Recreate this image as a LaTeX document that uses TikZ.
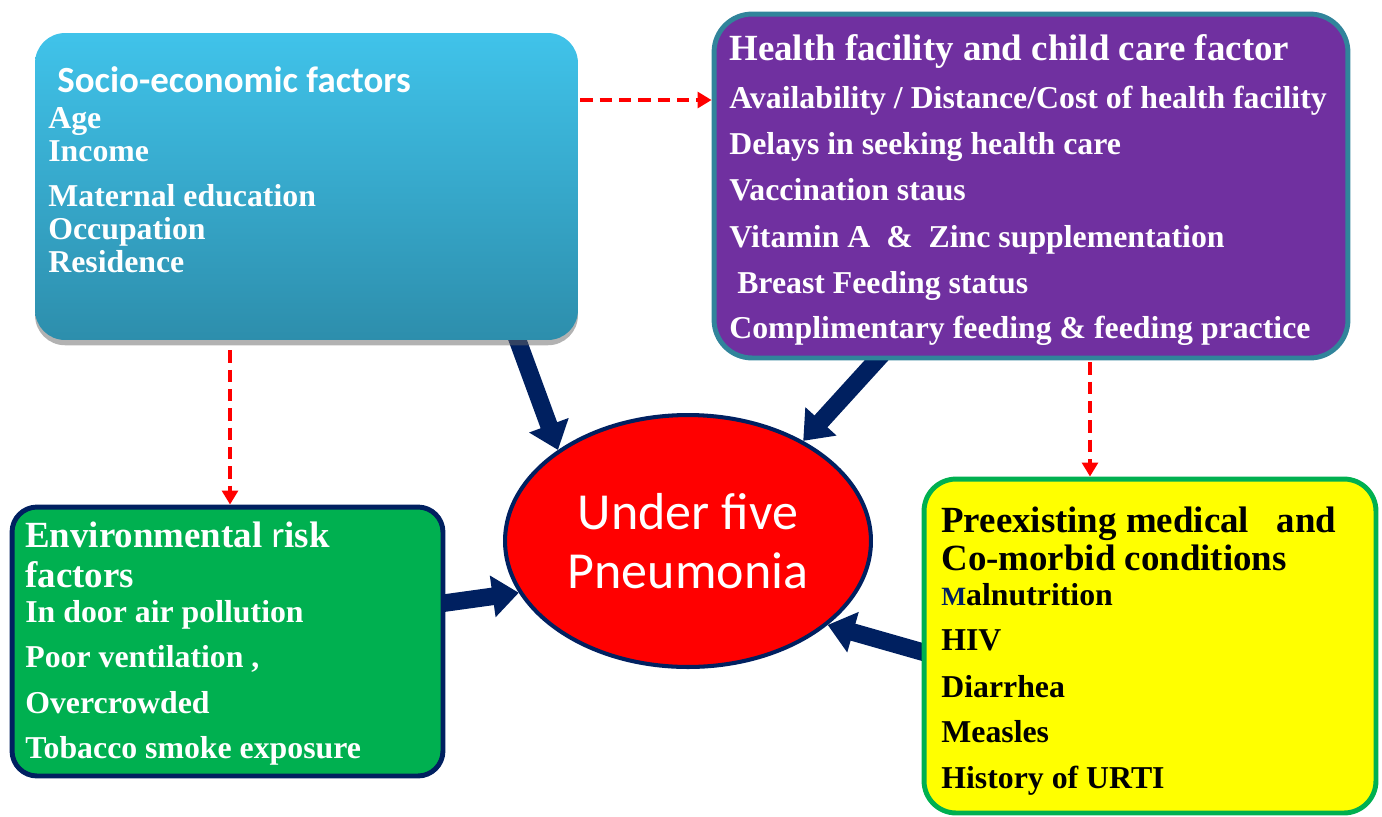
\documentclass[tikz,border=0pt]{standalone}
\usepackage{fontspec}
\setmainfont{Liberation Serif}
\newfontfamily\calibri{Carlito}
\usetikzlibrary{arrows.meta, shadows, backgrounds, shapes.geometric}

\definecolor{navy}{HTML}{002060}
\definecolor{socTop}{HTML}{40C3EA}
\definecolor{socBot}{HTML}{2D8EAC}
\definecolor{hfFill}{HTML}{7030A0}
\definecolor{hfLine}{HTML}{31849B}
\definecolor{envFill}{HTML}{00B050}
\definecolor{pxFill}{HTML}{FFFF00}

\tikzset{
  box/.style={rectangle, inner sep=0pt, line width=2.8pt},
  head/.style={anchor=base west, inner sep=0pt, font=\bfseries\fontsize{21}{21}\selectfont},
  item/.style={anchor=base west, inner sep=0pt, font=\bfseries\fontsize{18.1}{18}\selectfont},
  fat/.style={draw=navy, line width=10pt, -{Triangle[length=15pt,width=23pt]}},
  redlink/.style={draw=red, line width=2.3pt, dash pattern=on 7pt off 4pt,
    -{Triangle[length=8pt,width=9pt]}},
}

\begin{document}
\begin{tikzpicture}[x=0.02cm, y=-0.02cm]
  \useasboundingbox (0,0) rectangle (1382,816);

  % the four groups of factors
  \node[box, rounded corners=0.6cm, top color=socTop, bottom color=socBot,
    drop shadow={shadow xshift=0pt, shadow yshift=-3pt, opacity=0.5, fill=black!60},
    minimum width=10.86cm, minimum height=6.14cm] (socio) at (306.5,186.5) {};
  \node[box, rounded corners=0.76cm, fill=hfFill, draw=hfLine,
    minimum width=12.68cm, minimum height=6.88cm] (health) at (1031,186) {};
  \node[box, rounded corners=0.5cm, fill=envFill, draw=navy,
    minimum width=8.62cm, minimum height=5.38cm] (env) at (227.5,641.5) {};
  \node[box, rounded corners=0.64cm, fill=pxFill, draw=envFill,
    minimum width=9.04cm, minimum height=6.68cm] (pre) at (1150,646) {};

  % centre
  \node[ellipse, fill=red, draw=navy, line width=2.3pt, inner sep=0pt,
    minimum width=7.32cm, minimum height=5.04cm, text=white, align=center,
    font=\calibri\fontsize{29.6}{33.5}\selectfont] (pneu) at (688,541)
    {Under five\\Pneumonia};

  % socio-economic
  \node[head, text=white, font=\calibri\bfseries\fontsize{21}{21}\selectfont]
    (socT) at (57,92) {Socio-economic factors};
  \foreach \y/\t [count=\i] in {128/Age, 161/Income, 206/Maternal education,
      239/Occupation, 272/Residence}
    \node[item, text=white] (soc\i) at (48,\y) {\t};

  % health facility
  \node[head, text=white] (hfT) at (729,60) {Health facility and child care factor};
  \foreach \y/\t [count=\i] in {108/{Availability / Distance/Cost of health facility},
      154/Delays in seeking health care, 200/Vaccination staus,
      247/{Vitamin A\ \ \&\ \ Zinc supplementation},
      293/{\hspace*{4.5pt}Breast Feeding status},
      338/{Complimentary feeding \& feeding practice}}
    \node[item, text=white] (hf\i) at (729,\y) {\t};

  % environment
  \node[head, text=white] (envT1) at (25,547) {Environmental {\calibri\mdseries r}isk};
  \node[head, text=white] (envT2) at (25,587) {factors};
  \foreach \y/\t [count=\i] in {622/In door air pollution, 667/{Poor ventilation ,},
      713/Overcrowded, 758/Tobacco smoke exposure}
    \node[item, text=white] (env\i) at (25,\y) {\t};

  % preexisting conditions
  \node[head] (preT1) at (941,532) {Preexisting medical\ \ \ and};
  \node[head] (preT2) at (941,570) {Co-morbid conditions};
  \foreach \y/\t [count=\i] in {605/{{\color{navy}\fontsize{15}{15}\selectfont M}alnutrition},
      650/HIV, 697/Diarrhea, 742/Measles, 788/History of URTI}
    \node[item] (pre\i) at (941,\y) {\t};

  % thick arrows into the centre
  \begin{scope}[on background layer]
    \draw[fat] ([xshift=4.13cm, yshift=0.3cm]socio.south) -- (pneu.145);
    \draw[fat] ([xshift=-2.82cm, yshift=0.3cm]health.south) -- (pneu.41);
    \draw[fat] ([xshift=-0.3cm, yshift=0.73cm]env.east) -- (pneu.197);
    \draw[fat] ([xshift=0.3cm, yshift=-0.2cm]pre.west) -- (pneu.-31);
  \end{scope}

  % dashed links between groups
  \coordinate (d1) at ([yshift=1.73cm]socio.east);
  \coordinate (d2) at ([xshift=-1.53cm, yshift=-0.16cm]socio.south);
  \coordinate (d3) at ([xshift=1.18cm, yshift=-0.04cm]health.south);
  \draw[redlink] (d1) -- (d1 -| health.west);
  \draw[redlink] (d2) -- (d2 |- env.north);
  \draw[redlink] (d3) -- (d3 |- pre.north);
\end{tikzpicture}
\end{document}
